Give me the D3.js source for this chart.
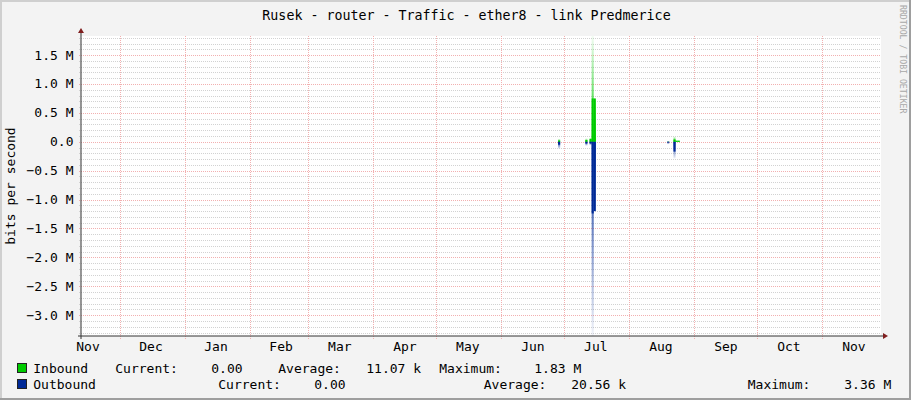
<!DOCTYPE html>
<html lang="en">
<head>
<meta charset="UTF-8">
<title>Rusek - router - Traffic - ether8</title>
<script src="https://cdn.jsdelivr.net/npm/d3@7"></script>
<style>
    body { margin: 0; background: #fff; }
    text { font-family: "DejaVu Sans Mono", monospace; }
</style>
</head>
<body>
<svg id="chart" width="911" height="400"></svg>
<script>
// daily samples with traffic (bits per second), all other days are zero
var days = ["2015-06-28", "2015-07-11", "2015-07-13", "2015-07-14", "2015-07-15",
            "2015-08-19", "2015-08-22", "2015-08-23", "2015-08-24"];
var inAvg  = [20000, 30000, 50000,  750000,  750000,     0,  40000, 20000, 20000];
var inMax  = [50000, 60000, 70000, 1830000,  750000, 10000,  90000, 20000, 20000];
var outAvg = [50000, 30000, 30000, 1240000, 1200000, 10000, 170000,     0,     0];
var outMax = [120000, 70000, 60000, 3360000, 1200000, 40000, 290000,    0,     0];

var seriesNames = ["Inbound", "Outbound"];
var statCurrent = ["0.00", "0.00"];
var statAverage = ["11.07 k", "20.56 k"];
var statMaximum = ["1.83 M", "3.36 M"];

var title = "Rusek - router - Traffic - ether8 - link Predmerice";

var width = 911, height = 400;
// plot box (note: "top" is reserved by window, so p* names)
var pLeft = 81, pRight = 881, pTop = 36, pBottom = 336;
var inColor = "#00cc00", outColor = "#002a97";
var minorColor = "#d2d2d2", majorColor = "#f2b0b0";

var svg = d3.select("#chart");
var DAY = 86400000;
var parse = d3.utcParse("%Y-%m-%d");
var dates = days.map(parse);

var x = d3.scaleUtc()
    .domain([Date.UTC(2014, 10, 12, 15, 36), Date.UTC(2015, 10, 28, 21, 36)])
    .range([pLeft, pRight]);
var y = d3.scaleLinear()
    .domain([-d3.max(outMax), d3.max(inMax)])
    .range([pBottom, pTop]);

// background + 3d shade
svg.append("rect").attr("width", width).attr("height", height).attr("fill", "#f3f3f3");
svg.append("path").attr("d", "M0,0H" + width + "V2H2V" + height + "H0Z").attr("fill", "#cfcfcf");
svg.append("path").attr("d", "M" + width + ",0V" + height + "H0V" + (height - 2) + "H" + (width - 2) + "V0Z").attr("fill", "#9e9e9e");

svg.append("rect")
    .attr("x", pLeft).attr("y", pTop)
    .attr("width", pRight - pLeft).attr("height", pBottom - pTop)
    .attr("fill", "#fff");

// gradients for maximum areas
var defs = svg.append("defs");
function grad(id, color, up) {
    var g = defs.append("linearGradient").attr("id", id)
        .attr("x1", 0).attr("x2", 0)
        .attr("y1", up ? 1 : 0).attr("y2", up ? 0 : 1);
    g.append("stop").attr("offset", 0).attr("stop-color", color).attr("stop-opacity", 1);
    g.append("stop").attr("offset", 1).attr("stop-color", color).attr("stop-opacity", 0.05);
}
grad("gIn", inColor, true);
grad("gOut", outColor, false);

// grid
var px = function (v) { return Math.round(v) + 0.5; };
var minor = y.ticks(52), major = y.ticks(10);
var gGrid = svg.append("g");
gGrid.selectAll(".minor").data(minor.filter(function (v) {
        return major.indexOf(v) < 0;
    }))
    .enter().append("line")
    .attr("x1", pLeft - 2).attr("x2", pRight)
    .attr("y1", function (d) { return px(y(d)); })
    .attr("y2", function (d) { return px(y(d)); })
    .attr("stroke", minorColor).attr("stroke-dasharray", "1,1");
gGrid.selectAll(".major").data(major)
    .enter().append("line")
    .attr("x1", pLeft - 2).attr("x2", pRight)
    .attr("y1", function (d) { return px(y(d)); })
    .attr("y2", function (d) { return px(y(d)); })
    .attr("stroke", majorColor).attr("stroke-dasharray", "1,1");

var months = d3.utcMonth.range(x.domain()[0], x.domain()[1]);
gGrid.selectAll(".vline").data(months)
    .enter().append("line")
    .attr("x1", function (d) { return px(x(d)); })
    .attr("x2", function (d) { return px(x(d)); })
    .attr("y1", pTop).attr("y2", pBottom + 3)
    .attr("stroke", majorColor).attr("stroke-dasharray", "1,1");

// data
var idx = d3.range(days.length);
function bars(values, sign, fill) {
    svg.append("g").selectAll("rect")
        .data(idx.filter(function (i) { return values[i] > 0; }))
        .enter().append("rect")
        .attr("x", function (i) { return x(dates[i]); })
        .attr("width", function (i) { return x(new Date(+dates[i] + DAY)) - x(dates[i]); })
        .attr("y", function (i) { return sign > 0 ? y(values[i]) : y(0); })
        .attr("height", function (i) { return Math.abs(y(sign * values[i]) - y(0)); })
        .attr("fill", fill);
}
bars(inMax, 1, "url(#gIn)");
bars(outMax, -1, "url(#gOut)");
bars(inAvg, 1, inColor);
bars(outAvg, -1, outColor);

// axes
svg.append("line").attr("x1", pLeft).attr("x2", pLeft).attr("y1", pBottom + 3).attr("y2", pTop - 4)
    .attr("stroke", "#333");
svg.append("line").attr("x1", pLeft - 3).attr("x2", pRight + 3).attr("y1", pBottom).attr("y2", pBottom)
    .attr("stroke", "#333");
svg.append("path").attr("d", "M" + (pLeft - 3) + "," + (pTop - 3) + "L" + pLeft + "," + (pTop - 8) + "L" + (pLeft + 3) + "," + (pTop - 3) + "Z")
    .attr("fill", "#801f1f");
svg.append("path").attr("d", "M" + (pRight + 2) + "," + (pBottom - 3) + "L" + (pRight + 7) + "," + pBottom + "L" + (pRight + 2) + "," + (pBottom + 3) + "Z")
    .attr("fill", "#801f1f");

// y labels
svg.append("g").selectAll("text").data(major)
    .enter().append("text")
    .attr("x", 73.5)
    .attr("y", function (d) { return y(d) + 4.5; })
    .attr("text-anchor", "end")
    .attr("font-size", 13)
    .text(function (d) { return d === 0 ? "0.0" : d3.format(".1f")(d / 1e6) + " M"; });

// x labels, centred half a month after each month start
var labelMonths = d3.utcMonth.range(d3.utcMonth.floor(x.domain()[0]), x.domain()[1])
    .map(function (d) { return d3.utcDay.offset(d, 15); })
    .filter(function (d) { return x(d) > pLeft && x(d) < pRight; });
svg.append("g").selectAll("text").data(labelMonths)
    .enter().append("text")
    .attr("x", function (d) { return x(d); })
    .attr("y", 351)
    .attr("text-anchor", "middle")
    .attr("font-size", 13)
    .text(d3.utcFormat("%b"));

// titles
svg.append("text").attr("x", 466.5).attr("y", 19.5).attr("text-anchor", "middle")
    .attr("font-size", 13.3).text(title);
svg.append("text").attr("transform", "translate(15,186) rotate(-90)")
    .attr("text-anchor", "middle").attr("font-size", 13).text("bits per second");
svg.append("text").attr("transform", "translate(900,5) rotate(90)")
    .attr("font-size", 8.2).attr("fill", "#a8a8a8").text("RRDTOOL / TOBI OETIKER");

// legend
var legendRows = [
    { y: 373, pos: [116, 212, 279, 367, 440, 535] },
    { y: 389, pos: [219, 315, 484.5, 572, 748.5, 845] }
];
var colors = [inColor, outColor];
legendRows.forEach(function (r, i) {
    svg.append("rect").attr("x", 17.5).attr("y", r.y - 9.5).attr("width", 9).attr("height", 9)
        .attr("fill", colors[i]).attr("stroke", "#222");
    var items = [seriesNames[i], "Current:", statCurrent[i], "Average:", statAverage[i], "Maximum:", statMaximum[i]];
    var xs = [34].concat(r.pos);
    items.forEach(function (t, j) {
        svg.append("text").attr("x", xs[j] - 0.7).attr("y", r.y).attr("font-size", 13).text(t);
    });
});
</script>
</body>
</html>
